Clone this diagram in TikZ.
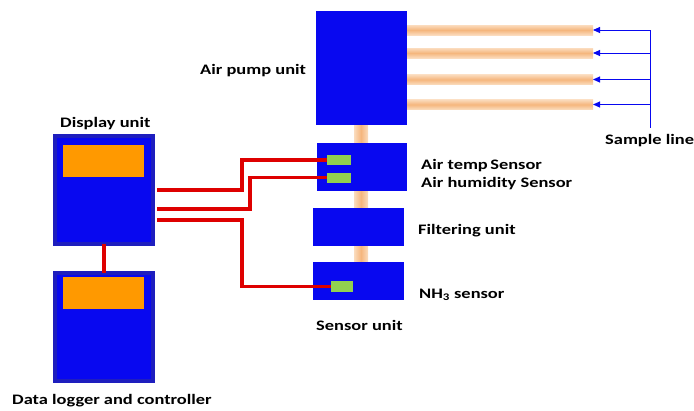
\documentclass[tikz,border=0pt]{standalone}
\usepackage{fontspec}
\setmainfont{Carlito}
\newfontfamily\lblfont[FakeStretch=1.27]{Carlito}
\usetikzlibrary{arrows.meta}

\definecolor{unitblue}{RGB}{8,8,240}
\definecolor{bevelblue}{RGB}{30,30,190}
\definecolor{screen}{RGB}{255,153,0}
\definecolor{chip}{RGB}{146,208,80}
\definecolor{wire}{RGB}{222,0,0}
\definecolor{tubemid}{RGB}{245,182,125}
\definecolor{tubeedge}{RGB}{251,220,190}

\begin{document}
\begin{tikzpicture}[x=1pt, y=-1pt, >={Triangle[length=7pt,width=6pt]},
	box/.style={fill=unitblue, inner sep=0pt, outer sep=0pt},
	bevelbox/.style={box, draw=bevelblue, line width=4pt},
	screenbox/.style={fill=screen, inner sep=0pt, outer sep=0pt, minimum width=81pt, minimum height=32pt},
	chipbox/.style={fill=chip, inner sep=0pt, outer sep=0pt},
	tubeh/.style={top color=tubeedge, bottom color=tubeedge, middle color=tubemid, inner sep=0pt, outer sep=0pt, minimum height=10pt, minimum width=186pt},
	wireline/.style={wire, line width=3.2pt},
	sample/.style={->, unitblue, line width=0.9pt},
	lbl/.style={font=\lblfont\bfseries\fontsize{14.5}{16}\selectfont, inner sep=0pt, anchor=west}]
	\useasboundingbox (0,0) rectangle (694,410);
	
	% Vertical air tube behind the units
	\shade[left color=tubeedge, right color=tubeedge, middle color=tubemid] (354,120) rectangle (368,266);
	
	% Air pump, sensor, filter and NH3 units
	\node[box, minimum width=91pt, minimum height=114pt] (pump) at (361.5,68) {};
	\node[box, minimum width=90pt, minimum height=48pt] (sens) at (362,167) {};
	\node[box, minimum width=91pt, minimum height=38pt] (filt) at (358.5,227) {};
	\node[box, minimum width=91pt, minimum height=38pt] (nh) at (358.5,281) {};
	
	% Sensor chips
	\node[chipbox, minimum width=24pt, minimum height=10pt] (s1) at (339,160) {};
	\node[chipbox, minimum width=24pt, minimum height=10pt] (s2) at (339,177.5) {};
	\node[chipbox, minimum width=22pt, minimum height=11pt] (s3) at (342,286.5) {};
	
	% Display unit and data logger
	\node[bevelbox, minimum width=98pt, minimum height=108pt] (disp) at (104,190) {};
	\node[screenbox] (dscr) at (103.5,161) {};
	\node[bevelbox, minimum width=98pt, minimum height=108pt] (logr) at (104,327) {};
	\node[screenbox] (lscr) at (103.5,293) {};
	
	% Sample tubes with arrows
	\coordinate (sl) at (650,128);
	\foreach \y [count=\i] in {30,53,79.5,104.5} {
		\node[tubeh, anchor=west] (t\i) at (407,\y) {};
		\draw[sample] (650,\y) -- (t\i.east);
	}
	\draw[unitblue, line width=0.9pt] (650,30) -- (sl);
	
	% Red wires
	\coordinate (w1) at (157,190);
	\coordinate (w2) at (157,209);
	\coordinate (w3) at (157,220);
	\draw[wireline] (w1) -- ++(85,0) |- (s1.west);
	\draw[wireline] (w2) -- ++(93,0) |- (s2.west);
	\draw[wireline] (w3) -- ++(85,0) |- (s3.west);
	\draw[wireline] (disp.south) -- (logr.north);
	
	% Labels
	\node[lbl] (lpump) at (200,71) {Air pump unit};
	\node[lbl] (ldisp) at (60,124) {Display unit};
	\node[lbl] (lsamp) at (605,141) {Sample line};
	\node[lbl] (ltemp) at (421,166) {Air temp\,Sensor};
	\node[lbl] (lhum) at (421,184) {Air humidity Sensor};
	\node[lbl] (lfilt) at (418,231) {Filtering unit};
	\node[lbl] (lnh) at (419,295) {NH\textsubscript{3} sensor};
	\node[lbl] (lsens) at (316,325) {Sensor unit};
	\node[lbl] (llog) at (12,401) {Data logger and controller};
\end{tikzpicture}
\end{document}
